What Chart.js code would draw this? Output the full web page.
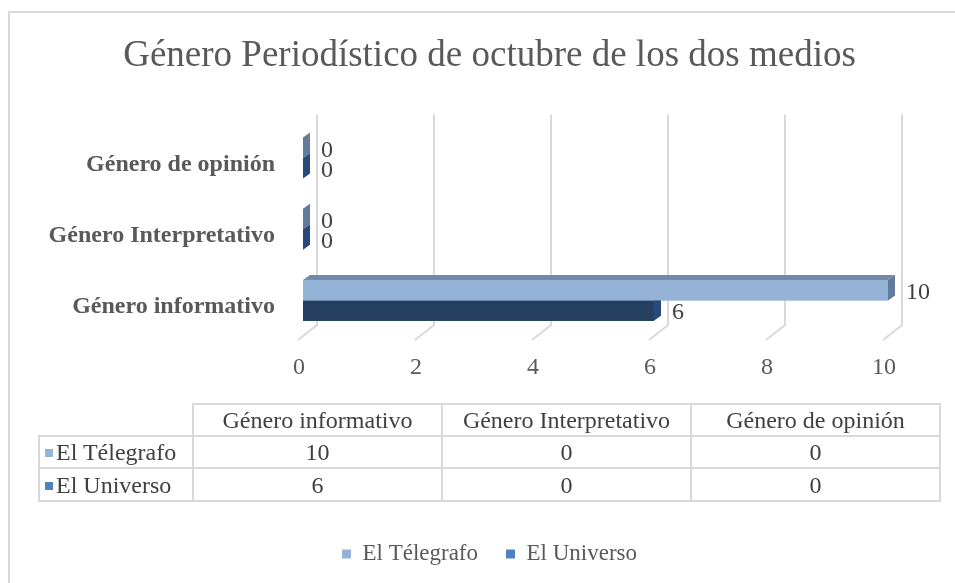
<!DOCTYPE html>
<html><head><meta charset="utf-8">
<script src="https://cdn.jsdelivr.net/npm/chart.js@4.4.1/dist/chart.umd.min.js"></script>
<style>
html,body{margin:0;padding:0;background:#fff;width:955px;height:583px;overflow:hidden;position:relative;}
#frame{position:absolute;left:8px;top:11px;width:990px;height:620px;border:2px solid #d9d9d9;box-sizing:border-box;}
#c{position:absolute;left:0;top:0;}
#tbl{position:absolute;left:38px;top:403px;border-collapse:collapse;table-layout:fixed;font-family:'Liberation Serif','Times New Roman',serif;font-size:24px;color:#404040;}
#tbl td{border:2px solid #d9d9d9;text-align:center;padding:0;white-space:nowrap;overflow:hidden;line-height:28px;}
#tbl td.blank{border-top:none;border-left:none;}
#tbl td.lab{text-align:left;padding-left:5px;}
#tbl .key{display:inline-block;width:8px;height:8px;margin-right:3px;vertical-align:3px;}
</style></head>
<body>
<div id="frame"></div>
<canvas id="c" width="955" height="583"></canvas>
<table id="tbl"></table>
<script>
const chartTitle = 'Género Periodístico de octubre de los dos medios';
const categories = ['Género informativo', 'Género Interpretativo', 'Género de opinión'];
const seriesNames = ['El Télegrafo', 'El Universo'];
const telegrafo = [10, 0, 0];
const universo = [6, 0, 0];
const xTicks = [0, 2, 4, 6, 8, 10];
const frontColors = ['#95B3D7', '#254061'];
const topColors = ['#7289AA', '#1d334f'];
const sideColors = ['#627A9C', '#284a78'];
const legendColors = ['#95B3D7', '#4F81BD'];

const FONT = "'Liberation Serif','Times New Roman',serif";
const DX = 7, DY = 5;

// build data table (HTML)
(function(){
  const tbl = document.getElementById('tbl');
  const colW = [154, 249, 249, 249];
  let html = '<colgroup>' + colW.map(w => '<col style="width:' + w + 'px">').join('') + '</colgroup>';
  html += '<tr style="height:32px"><td class="blank"></td>' + categories.map(c => '<td>' + c + '</td>').join('') + '</tr>';
  const series = [telegrafo, universo];
  series.forEach((vals, i) => {
    html += '<tr style="height:' + (i === 0 ? 32 : 33) + 'px"><td class="lab"><span class="key" style="background:' + legendColors[i] + '"></span>' + seriesNames[i] + '</td>' +
      vals.map(v => '<td>' + v + '</td>').join('') + '</tr>';
  });
  tbl.innerHTML = html;
})();

const plotLabels = categories.slice().reverse();
const plotT = telegrafo.slice().reverse();
const plotU = universo.slice().reverse();

const bar3d = {
  id: 'bar3d',
  beforeDatasetsDraw(chart) {
    const xs = chart.scales.x, ctx = chart.ctx, a = chart.chartArea;
    ctx.save();
    ctx.strokeStyle = '#d9d9d9';
    ctx.lineWidth = 2;
    xTicks.forEach(v => {
      const px = xs.getPixelForValue(v);
      ctx.beginPath();
      ctx.moveTo(px + 14, a.top - 8);
      ctx.lineTo(px + 14, a.bottom - 11);
      ctx.lineTo(px - 5, a.bottom + 4);
      ctx.stroke();
    });
    ctx.restore();
  },
  afterDatasetsDraw(chart) {
    const ctx = chart.ctx;
    const nd = chart.data.datasets.length;
    const n = chart.data.labels.length;
    ctx.save();
    for (let i = 0; i < n; i++) {
      for (let d = nd - 1; d >= 0; d--) {
        const el = chart.getDatasetMeta(d).data[i];
        const p = el.getProps(['x', 'y', 'base', 'height'], true);
        const top = p.y - p.height / 2, bot = p.y + p.height / 2;
        const left = Math.min(p.base, p.x), right = Math.max(p.base, p.x);
        let tStart = left;
        if (d > 0) {
          const up = chart.getDatasetMeta(d - 1).data[i].getProps(['x', 'base'], true);
          tStart = Math.max(left, Math.max(up.x, up.base));
        }
        if (right > tStart) {
          ctx.fillStyle = topColors[d];
          ctx.beginPath();
          ctx.moveTo(tStart, top); ctx.lineTo(right, top);
          ctx.lineTo(right + DX, top - DY); ctx.lineTo(tStart + DX, top - DY);
          ctx.closePath(); ctx.fill();
        }
        ctx.fillStyle = sideColors[d];
        ctx.beginPath();
        ctx.moveTo(right, top); ctx.lineTo(right + DX, top - DY);
        ctx.lineTo(right + DX, bot - DY); ctx.lineTo(right, bot);
        ctx.closePath(); ctx.fill();
        if (right > left) {
          ctx.fillStyle = frontColors[d];
          ctx.fillRect(left, top, right - left, bot - top);
        }
      }
    }
    // value labels
    ctx.fillStyle = '#404040';
    ctx.font = '24px ' + FONT;
    ctx.textAlign = 'left';
    ctx.textBaseline = 'middle';
    for (let d = 0; d < nd; d++) {
      const meta = chart.getDatasetMeta(d);
      meta.data.forEach((el, i) => {
        const p = el.getProps(['x', 'y'], true);
        ctx.fillText(String(chart.data.datasets[d].data[i]), p.x + 18, p.y + 2.5);
      });
    }
    ctx.restore();
  }
};

new Chart(document.getElementById('c'), {
  type: 'bar',
  data: {
    labels: plotLabels,
    datasets: [
      { label: seriesNames[0], data: plotT, backgroundColor: frontColors[0], categoryPercentage: 0.575, barPercentage: 1 },
      { label: seriesNames[1], data: plotU, backgroundColor: frontColors[1], categoryPercentage: 0.575, barPercentage: 1 }
    ]
  },
  options: {
    responsive: false,
    animation: false,
    indexAxis: 'y',
    layout: { padding: { left: 24, right: 0, top: 12, bottom: 7.5 } },
    scales: {
      x: {
        min: 0, max: 10,
        afterBuildTicks(s) { s.ticks = xTicks.map(v => ({ value: v })); },
        ticks: { font: { family: FONT, size: 24 }, color: '#595959', padding: 17.6, labelOffset: -4 },
        grid: { display: false, drawTicks: false },
        border: { display: false },
        afterFit(s) { s.height = 178.5; }
      },
      y: {
        ticks: { font: { family: FONT, size: 24, weight: 'bold' }, color: '#595959', padding: 28, labelOffset: 6.5 },
        grid: { display: false, drawTicks: false },
        border: { display: false },
        afterFit(s) { s.width = 279; }
      },
      yR: {
        type: 'linear', position: 'right', display: true,
        ticks: { display: false },
        grid: { display: false, drawTicks: false },
        border: { display: false },
        afterFit(s) { s.width = 67; }
      }
    },
    plugins: {
      title: {
        display: true, text: chartTitle, color: '#595959',
        font: { family: FONT, size: 37, weight: 'normal' },
        padding: { top: 22, bottom: 44 }
      },
      legend: {
        position: 'bottom',
        labels: {
          font: { family: FONT, size: 23 }, color: '#595959',
          boxWidth: 9, boxHeight: 9, padding: 28,
          generateLabels(chart) {
            const items = Chart.defaults.plugins.legend.labels.generateLabels(chart);
            items.forEach((it, i) => { it.fillStyle = legendColors[i]; it.strokeStyle = legendColors[i]; it.lineWidth = 0; });
            return items;
          }
        }
      },
      tooltip: { enabled: false }
    }
  },
  plugins: [bar3d]
});
</script>
</body></html>
